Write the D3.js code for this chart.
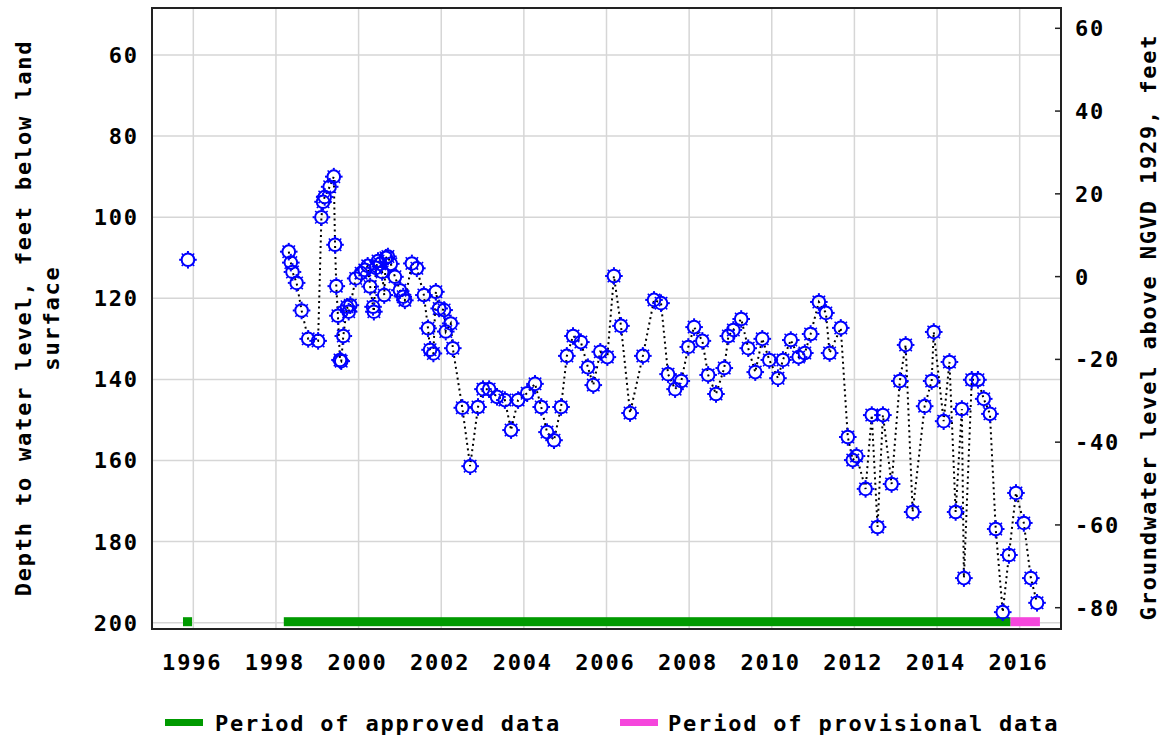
<!DOCTYPE html>
<html><head><meta charset="utf-8">
<script src="https://cdn.jsdelivr.net/npm/d3@7"></script>
<style>
html,body{margin:0;padding:0;background:#fff;}
text{font-family:"DejaVu Sans Mono","Liberation Mono",monospace;font-weight:bold;fill:#000;}
</style></head>
<body><svg id="chart" width="1164" height="738"></svg>
<script>
// ---- data ----
const years = [1995.87,
 1998.31,1998.36,1998.40,1998.50,1998.62,1998.78,1999.02,1999.10,1999.14,1999.18,1999.30,1999.40,
 1999.43,1999.46,1999.50,1999.55,1999.58,1999.63,1999.72,1999.76,1999.80,1999.93,2000.06,2000.15,
 2000.22,2000.28,2000.35,2000.37,2000.42,2000.47,2000.52,2000.57,2000.62,2000.66,2000.71,2000.78,
 2000.88,2001.00,2001.08,2001.12,2001.29,2001.41,2001.58,2001.68,2001.73,2001.81,2001.87,2001.95,
 2002.07,2002.11,2002.23,2002.28,
 2002.51,2002.70,2002.89,2003.01,2003.16,2003.35,2003.54,2003.69,2003.86,2004.08,2004.27,2004.42,
 2004.56,2004.73,2004.90,2005.04,2005.19,2005.38,2005.55,2005.68,2005.85,2006.02,2006.18,2006.35,
 2006.57,2006.88,2007.15,2007.32,2007.49,2007.66,2007.81,2007.98,2008.12,2008.32,2008.46,2008.65,
 2008.85,2008.95,2009.07,2009.26,2009.43,2009.60,2009.77,2009.94,2010.15,2010.27,2010.46,2010.65,
 2010.80,2010.94,2011.14,2011.31,2011.40,2011.67,2011.84,2011.96,2012.05,2012.27,2012.42,2012.56,
 2012.69,2012.90,2013.10,2013.24,2013.41,2013.70,2013.87,2013.92,2014.16,2014.30,2014.45,2014.60,
 2014.65,2014.84,2014.99,2015.13,2015.28,2015.42,2015.59,2015.74,2015.91,2016.10,2016.27,2016.42];
const depths = [110.5,
 108.5,111.2,113.5,116.2,123.0,130.0,130.5,100.0,96.2,95.0,92.5,90.0,
 106.8,117.0,124.3,135.2,135.5,129.3,122.1,123.3,121.7,115.1,113.8,113.0,
 112.0,117.1,122.1,123.3,112.5,110.8,111.5,113.5,119.2,110.0,109.7,111.5,
 114.7,118.0,119.6,120.5,111.4,112.6,119.2,127.4,132.7,133.6,118.4,122.5,
 122.9,128.2,126.2,132.3,
 147.0,161.4,146.8,142.4,142.4,144.3,145.1,152.5,145.1,143.4,141.1,146.8,
 153.0,155.0,146.8,134.2,129.3,130.8,137.0,141.4,133.2,134.5,114.5,126.8,
 148.3,134.2,120.4,121.2,138.7,142.4,140.4,132.0,127.1,130.5,138.9,143.6,
 137.2,129.3,127.8,125.1,132.3,138.2,130.0,135.2,139.7,135.2,130.3,134.5,
 133.5,128.8,120.9,123.6,133.5,127.3,154.2,159.9,158.9,167.0,148.8,176.4,
 148.8,165.8,140.4,131.5,172.7,146.6,140.4,128.3,150.3,135.7,172.7,147.3,
 189.0,140.1,140.1,144.8,148.5,176.9,197.4,183.3,168.0,175.4,189.0,195.1];
const xTicks = [1996,1998,2000,2002,2004,2006,2008,2010,2012,2014,2016];
const leftTicks = [60,80,100,120,140,160,180,200];
const rightTicks = [60,40,20,0,-20,-40,-60,-80];
const approvedStart = [1995.75, 1998.19];
const approvedEnd   = [1995.97, 2015.78];
const provisionalStart = [2015.78];
const provisionalEnd   = [2016.49];
const legendLabels = ["Period of approved data","Period of provisional data"];

// ---- layout ----
const svg = d3.select("#chart");
const L=152, R=1061, T=8, B=629;
const x = d3.scaleLinear().domain([1995,2017]).range([L,R]);
const yL = d3.scaleLinear().domain([60,200]).range([55,622.7]);
const yR = d3.scaleLinear().domain([60,-80]).range([28.3,607.7]);
const GREEN="#009a00", PINK="#f546dc", BLUE="#0000ff";

// grid
const g = svg.append("g");
g.selectAll("line.gx").data(xTicks).enter().append("line")
 .attr("x1",d=>x(d)).attr("x2",d=>x(d)).attr("y1",T).attr("y2",B)
 .attr("stroke","#d6d6d6").attr("stroke-width",1.5);
g.selectAll("line.gy").data(leftTicks).enter().append("line")
 .attr("x1",L).attr("x2",R).attr("y1",d=>yL(d)).attr("y2",d=>yL(d))
 .attr("stroke","#d6d6d6").attr("stroke-width",1.5);

// approval bars
const bars = [];
approvedStart.forEach((s,i)=>bars.push({s,e:approvedEnd[i],c:GREEN}));
provisionalStart.forEach((s,i)=>bars.push({s,e:provisionalEnd[i],c:PINK}));
svg.selectAll("rect.bar").data(bars).enter().append("rect")
 .attr("x",d=>x(d.s)).attr("width",d=>x(d.e)-x(d.s))
 .attr("y",yL(200)-5.5).attr("height",9).attr("fill",d=>d.c);

// line segments (break at large gaps)
const pts = years.map((y,i)=>({t:y,d:depths[i]}));
const segs=[]; let cur=[pts[0]];
for(let i=1;i<pts.length;i++){ if(pts[i].t-pts[i-1].t>1.5){segs.push(cur);cur=[];} cur.push(pts[i]); }
segs.push(cur);
const line = d3.line().x(d=>x(d.t)).y(d=>yL(d.d));
svg.selectAll("path.seg").data(segs).enter().append("path")
 .attr("d",line).attr("fill","none").attr("stroke","#000").attr("stroke-width",2)
 .attr("stroke-dasharray","2,3.5");

// markers
const mk = svg.selectAll("g.mk").data(pts).enter().append("g")
 .attr("transform",d=>`translate(${x(d.t)},${yL(d.d)})`);
mk.append("circle").attr("r",6.3).attr("fill","none").attr("stroke",BLUE).attr("stroke-width",2);
const angs = d3.range(8).map(i=>i*Math.PI/4);
angs.forEach(a=>{
  mk.append("line").attr("x1",Math.cos(a)*6.8).attr("y1",Math.sin(a)*6.8)
    .attr("x2",Math.cos(a)*8.8).attr("y2",Math.sin(a)*8.8)
    .attr("stroke",BLUE).attr("stroke-width",a%(Math.PI/2)===0?2:1.5);
});

// frame
svg.append("rect").attr("x",L).attr("y",T).attr("width",R-L).attr("height",B-T)
 .attr("fill","none").attr("stroke","#222").attr("stroke-width",2);

// right ticks
svg.selectAll("line.rt").data(rightTicks).enter().append("line")
 .attr("x1",R-6).attr("x2",R).attr("y1",d=>yR(d)).attr("y2",d=>yR(d))
 .attr("stroke","#222").attr("stroke-width",1.5);

const fs = 22, ls = 1.8;
// x labels
svg.selectAll("text.xl").data(xTicks).enter().append("text")
 .attr("x",d=>x(d)+ls/2-2).attr("y",670).attr("text-anchor","middle")
 .attr("font-size",fs).attr("letter-spacing",ls).text(d=>d);
// left labels
svg.selectAll("text.yl").data(leftTicks).enter().append("text")
 .attr("x",137+ls).attr("y",d=>yL(d)).attr("dy","0.36em").attr("text-anchor","end")
 .attr("font-size",fs).attr("letter-spacing",ls).text(d=>d);
// right labels
svg.selectAll("text.yr").data(rightTicks).enter().append("text")
 .attr("x",1075).attr("y",d=>yR(d)).attr("dy","0.36em").attr("text-anchor","start")
 .attr("font-size",fs).attr("letter-spacing",ls).text(d=>d);

// axis titles
svg.append("text").attr("transform","translate(23,318) rotate(-90)")
 .attr("text-anchor","middle").attr("dominant-baseline","central")
 .attr("font-size",fs).attr("letter-spacing",ls).text("Depth to water level, feet below land");
svg.append("text").attr("transform","translate(51,318) rotate(-90)")
 .attr("text-anchor","middle").attr("dominant-baseline","central")
 .attr("font-size",fs).attr("letter-spacing",ls).text("surface");
svg.append("text").attr("transform","translate(1148,327) rotate(-90)")
 .attr("text-anchor","middle").attr("dominant-baseline","central")
 .attr("font-size",fs).attr("letter-spacing",ls).text("Groundwater level above NGVD 1929, feet");

// legend
const leg = [{c:GREEN,x:165,tx:215,t:legendLabels[0]},{c:PINK,x:620,tx:668,t:legendLabels[1]}];
svg.selectAll("rect.lg").data(leg).enter().append("rect")
 .attr("x",d=>d.x).attr("y",719).attr("width",38).attr("height",7).attr("fill",d=>d.c);
svg.selectAll("text.lg").data(leg).enter().append("text")
 .attr("x",d=>d.tx).attr("y",731).attr("font-size",fs).attr("letter-spacing",ls).text(d=>d.t);
</script></body></html>
